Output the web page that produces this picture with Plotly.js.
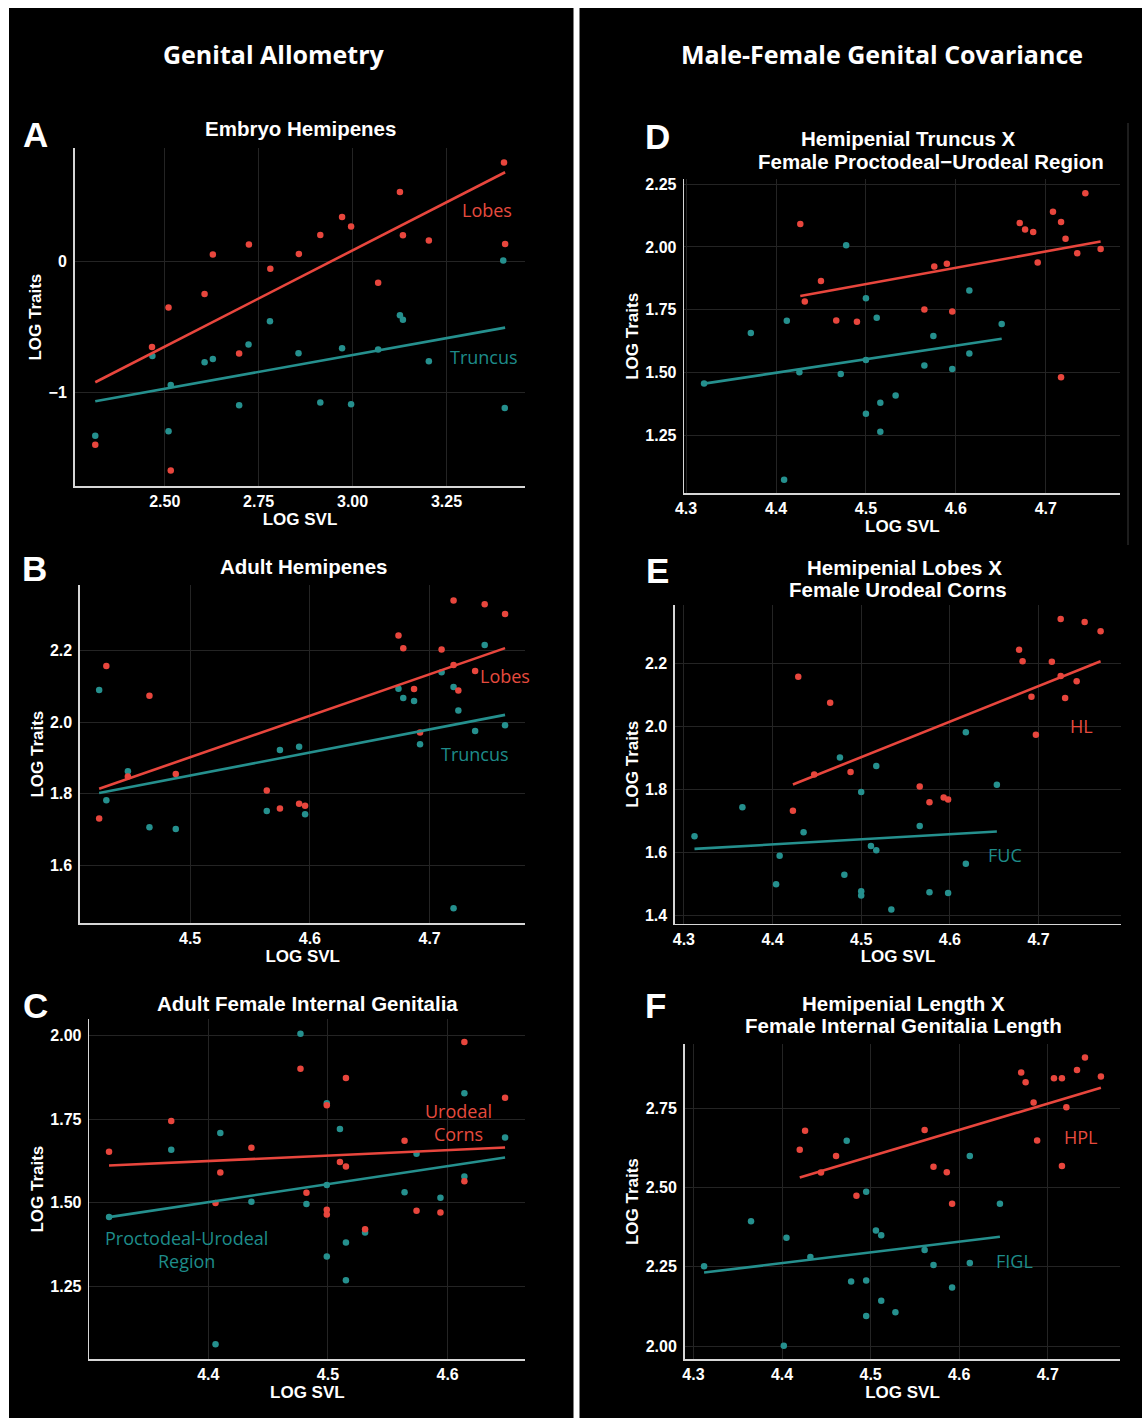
<!DOCTYPE html>
<html>
<head>
<meta charset="utf-8">
<script src="https://cdn.plot.ly/plotly-3.0.1.min.js"></script>
<style>html,body{margin:0;padding:0;background:#fff;}#chart{width:1142px;height:1418px;}</style>
</head>
<body>
<div id="chart"></div>
<script>
// ---------- DATA ----------
// Panel A: Embryo Hemipenes
const A_lobes_x = [3.403, 3.126, 2.972, 2.996, 2.914, 3.134, 3.203, 3.406, 2.724, 2.628, 2.857, 2.781, 3.068, 2.606, 2.510, 2.466, 2.698, 2.315, 2.516];
const A_lobes_y = [0.758, 0.533, 0.342, 0.268, 0.204, 0.202, 0.161, 0.135, 0.130, 0.054, 0.059, -0.054, -0.161, -0.247, -0.352, -0.653, -0.704, -1.401, -1.599];
const A_trunc_x = [3.401, 2.780, 3.126, 3.134, 2.723, 2.856, 2.972, 3.068, 2.467, 2.628, 2.606, 3.203, 2.516, 2.698, 2.914, 2.996, 3.405, 2.315, 2.510];
const A_trunc_y = [0.008, -0.457, -0.411, -0.444, -0.635, -0.702, -0.663, -0.673, -0.722, -0.745, -0.770, -0.763, -0.944, -1.099, -1.079, -1.092, -1.120, -1.332, -1.298];
const A_lobes_fit_x = [2.315, 3.406], A_lobes_fit_y = [-0.923, 0.684];
const A_trunc_fit_x = [2.315, 3.406], A_trunc_fit_y = [-1.069, -0.505];

// Panel B: Adult Hemipenes
const B_lobes_x = [4.720, 4.746, 4.763, 4.674, 4.678, 4.710, 4.430, 4.720, 4.738, 4.466, 4.687, 4.724, 4.692, 4.448, 4.488, 4.564, 4.575, 4.591, 4.596, 4.424];
const B_lobes_y = [2.339, 2.328, 2.301, 2.241, 2.206, 2.202, 2.156, 2.159, 2.142, 2.073, 2.092, 2.088, 1.971, 1.848, 1.855, 1.809, 1.759, 1.772, 1.767, 1.731];
const B_trunc_x = [4.424, 4.746, 4.710, 4.674, 4.720, 4.678, 4.687, 4.724, 4.763, 4.738, 4.692, 4.575, 4.591, 4.448, 4.430, 4.564, 4.596, 4.466, 4.488, 4.720];
const B_trunc_y = [2.089, 2.215, 2.139, 2.093, 2.098, 2.067, 2.059, 2.032, 1.991, 1.975, 1.938, 1.922, 1.931, 1.863, 1.782, 1.752, 1.743, 1.707, 1.702, 1.481];
const B_lobes_fit_x = [4.424, 4.763], B_lobes_fit_y = [1.814, 2.206];
const B_trunc_fit_x = [4.424, 4.763], B_trunc_fit_y = [1.802, 2.020];

// Panel C: Adult Female Internal Genitalia
const C_corns_x = [4.614, 4.477, 4.515, 4.648, 4.499, 4.369, 4.564, 4.436, 4.317, 4.510, 4.515, 4.410, 4.614, 4.482, 4.406, 4.499, 4.499, 4.574, 4.594, 4.531];
const C_corns_y = [1.980, 1.900, 1.873, 1.814, 1.791, 1.744, 1.685, 1.664, 1.652, 1.622, 1.608, 1.590, 1.564, 1.530, 1.499, 1.479, 1.465, 1.476, 1.471, 1.421];
const C_pur_x = [4.477, 4.614, 4.499, 4.510, 4.410, 4.648, 4.369, 4.574, 4.614, 4.499, 4.564, 4.594, 4.436, 4.482, 4.317, 4.531, 4.515, 4.499, 4.515, 4.406];
const C_pur_y = [2.005, 1.827, 1.797, 1.720, 1.708, 1.695, 1.658, 1.646, 1.578, 1.553, 1.531, 1.515, 1.503, 1.496, 1.457, 1.411, 1.381, 1.339, 1.268, 1.077];
const C_corns_fit_x = [4.317, 4.648], C_corns_fit_y = [1.611, 1.665];
const C_pur_fit_x = [4.317, 4.648], C_pur_fit_y = [1.457, 1.635];

// Panel D: Hemipenial Truncus X Female Proctodeal-Urodeal Region
const D_male_x = [4.744, 4.708, 4.427, 4.717, 4.671, 4.677, 4.686, 4.722, 4.761, 4.735, 4.691, 4.576, 4.590, 4.450, 4.432, 4.565, 4.596, 4.467, 4.490, 4.717];
const D_male_y = [2.214, 2.140, 2.091, 2.099, 2.095, 2.069, 2.060, 2.033, 1.992, 1.975, 1.938, 1.922, 1.933, 1.865, 1.783, 1.752, 1.744, 1.708, 1.703, 1.482];
const D_fem_x = [4.478, 4.615, 4.500, 4.512, 4.412, 4.651, 4.372, 4.575, 4.615, 4.500, 4.565, 4.596, 4.426, 4.472, 4.320, 4.533, 4.516, 4.500, 4.516, 4.409];
const D_fem_y = [2.007, 1.827, 1.796, 1.719, 1.707, 1.694, 1.658, 1.646, 1.577, 1.551, 1.529, 1.515, 1.502, 1.495, 1.457, 1.410, 1.381, 1.337, 1.266, 1.075];
const D_male_fit_x = [4.427, 4.761], D_male_fit_y = [1.805, 2.022];
const D_fem_fit_x = [4.320, 4.651], D_fem_fit_y = [1.457, 1.635];

// Panel E: Hemipenial Lobes X Female Urodeal Corns
const E_hl_x = [4.725, 4.752, 4.770, 4.678, 4.682, 4.715, 4.429, 4.725, 4.743, 4.465, 4.692, 4.730, 4.697, 4.447, 4.488, 4.566, 4.577, 4.593, 4.598, 4.423];
const E_hl_y = [2.340, 2.330, 2.301, 2.242, 2.206, 2.204, 2.157, 2.159, 2.142, 2.074, 2.093, 2.089, 1.973, 1.847, 1.855, 1.809, 1.759, 1.774, 1.768, 1.732];
const E_fuc_x = [4.618, 4.476, 4.517, 4.653, 4.500, 4.366, 4.566, 4.435, 4.312, 4.511, 4.517, 4.408, 4.618, 4.481, 4.404, 4.500, 4.500, 4.577, 4.598, 4.534];
const E_fuc_y = [1.981, 1.901, 1.874, 1.814, 1.791, 1.743, 1.684, 1.664, 1.651, 1.620, 1.607, 1.589, 1.564, 1.529, 1.499, 1.477, 1.463, 1.474, 1.471, 1.419];
const E_hl_fit_x = [4.423, 4.770], E_hl_fit_y = [1.815, 2.206];
const E_fuc_fit_x = [4.312, 4.653], E_fuc_fit_y = [1.611, 1.666];

// Panel F: Hemipenial Length X Female Internal Genitalia Length
const F_hpl_x = [4.742, 4.670, 4.733, 4.760, 4.707, 4.716, 4.675, 4.684, 4.721, 4.426, 4.561, 4.420, 4.461, 4.688, 4.571, 4.586, 4.444, 4.716, 4.484, 4.592];
const F_hpl_y = [2.911, 2.864, 2.872, 2.851, 2.846, 2.846, 2.833, 2.769, 2.754, 2.680, 2.682, 2.620, 2.600, 2.649, 2.566, 2.549, 2.548, 2.569, 2.475, 2.449];
const F_figl_x = [4.473, 4.612, 4.495, 4.646, 4.365, 4.405, 4.506, 4.512, 4.432, 4.561, 4.312, 4.571, 4.612, 4.478, 4.495, 4.592, 4.512, 4.528, 4.495, 4.402];
const F_figl_y = [2.648, 2.600, 2.487, 2.449, 2.394, 2.342, 2.365, 2.350, 2.281, 2.303, 2.252, 2.256, 2.262, 2.204, 2.207, 2.185, 2.143, 2.107, 2.095, 2.001];
const F_hpl_fit_x = [4.420, 4.760], F_hpl_fit_y = [2.532, 2.816];
const F_figl_fit_x = [4.312, 4.646], F_figl_fit_y = [2.232, 2.345];

// ---------- STYLE / LAYOUT ----------
const W = 1142, H = 1418;
const RED = '#E8463D', TEAL = '#25908E';
const RED_TXT = '#E64B3E', TEAL_TXT = '#1E8C8A';
const BOLD = "'Liberation Sans', Arial, sans-serif";
const LABF = "'Open Sans', 'Noto Sans', sans-serif";
const fx = p => p / W, fy = p => 1 - p / H;

const panels = [
  {id:'', xr:[2.26,3.46], yr:[-1.717,0.867], xd:[74.6,525.4], yd:[148.3,486], dx:0.25, dy:1, fxm:'.2f', fym:'d',
   series:[[A_trunc_x,A_trunc_y,A_trunc_fit_x,A_trunc_fit_y,'Truncus'],[A_lobes_x,A_lobes_y,A_lobes_fit_x,A_lobes_fit_y,'Lobes']]},
  {id:'2', xr:[4.408,4.780], yr:[1.439,2.382], xd:[80,525.4], yd:[585,923.3], dx:0.1, dy:0.2, fxm:'.1f', fym:'.1f',
   series:[[B_trunc_x,B_trunc_y,B_trunc_fit_x,B_trunc_fit_y,'Truncus'],[B_lobes_x,B_lobes_y,B_lobes_fit_x,B_lobes_fit_y,'Lobes']]},
  {id:'3', xr:[4.3005,4.665], yr:[1.032,2.049], xd:[89.3,525.4], yd:[1019,1359.3], dx:0.1, dy:0.25, fxm:'.1f', fym:'.2f',
   series:[[C_pur_x,C_pur_y,C_pur_fit_x,C_pur_fit_y,'Proctodeal-Urodeal Region'],[C_corns_x,C_corns_y,C_corns_fit_x,C_corns_fit_y,'Urodeal Corns']]},
  {id:'4', xr:[4.298,4.783], yr:[1.021,2.269], xd:[684.3,1120.4], yd:[179.3,493.3], dx:0.1, dy:0.25, fxm:'.1f', fym:'.2f',
   series:[[D_fem_x,D_fem_y,D_fem_fit_x,D_fem_fit_y,'Female Proctodeal-Urodeal Region'],[D_male_x,D_male_y,D_male_fit_x,D_male_fit_y,'Hemipenial Truncus']]},
  {id:'5', xr:[4.290,4.793], yr:[1.374,2.384], xd:[675,1121], yd:[605,923.7], dx:0.1, dy:0.2, fxm:'.1f', fym:'.1f',
   series:[[E_fuc_x,E_fuc_y,E_fuc_fit_x,E_fuc_fit_y,'FUC'],[E_hl_x,E_hl_y,E_hl_fit_x,E_hl_fit_y,'HL']]},
  {id:'6', xr:[4.290,4.782], yr:[1.958,2.954], xd:[684.6,1120.4], yd:[1044,1359.3], dx:0.1, dy:0.25, fxm:'.1f', fym:'.2f',
   series:[[F_figl_x,F_figl_y,F_figl_fit_x,F_figl_fit_y,'FIGL'],[F_hpl_x,F_hpl_y,F_hpl_fit_x,F_hpl_fit_y,'HPL']]}
];

const traces = [];
const layout = {
  width: W, height: H,
  margin: {l:0, r:0, t:0, b:0},
  paper_bgcolor: '#ffffff',
  plot_bgcolor: '#000000',
  showlegend: false,
  shapes: [
    {type:'rect', xref:'paper', yref:'paper', x0:fx(9), x1:fx(573.5), y0:0, y1:fy(8), fillcolor:'#000', line:{width:0}, layer:'below'},
    {type:'rect', xref:'paper', yref:'paper', x0:fx(579.5), x1:1, y0:0, y1:fy(8), fillcolor:'#000', line:{width:0}, layer:'below'},
    {type:'line', xref:'paper', yref:'paper', x0:fx(1128), x1:fx(1128), y0:fy(123), y1:fy(545), line:{color:'#3a3a3a', width:1}}
  ],
  annotations: []
};

panels.forEach(p => {
  const xa = 'x' + p.id, ya = 'y' + p.id;
  const colors = [TEAL, RED];
  p.series.forEach((s, i) => {
    traces.push({type:'scatter', mode:'markers', x:s[0], y:s[1], xaxis:xa, yaxis:ya, name:s[4],
      marker:{color:colors[i], size:6.5, line:{width:0}}, hoverinfo:'x+y+name'});
  });
  p.series.forEach((s, i) => {
    traces.push({type:'scatter', mode:'lines', x:s[2], y:s[3], xaxis:xa, yaxis:ya, name:s[4] + ' fit',
      line:{color:colors[i], width:2.6}, hoverinfo:'skip'});
  });
  const common = {
    showline:true, linecolor:'#d6d6d6', linewidth:1.6, mirror:false,
    showgrid:true, gridcolor:'#242424', gridwidth:1, zeroline:false,
    tickfont:{family:BOLD, size:16, color:'#ffffff', weight:700},
    fixedrange:true
  };
  layout['xaxis' + p.id] = Object.assign({}, common, {
    domain:[fx(p.xd[0]), fx(p.xd[1])], range:p.xr, anchor:ya,
    ticks:'', dtick:p.dx, tick0:0, tickformat:p.fxm,
    title:{text:'LOG SVL', font:{family:BOLD, size:17, color:'#ffffff', weight:700}, standoff:3}
  });
  layout['yaxis' + p.id] = Object.assign({}, common, {
    domain:[fy(p.yd[1]), fy(p.yd[0])], range:p.yr, anchor:xa,
    ticks:'outside', ticklen:3, tickcolor:'rgba(0,0,0,0)',
    dtick:p.dy, tick0:0, tickformat:p.fym,
    title:{text:'LOG Traits', font:{family:BOLD, size:17, color:'#ffffff', weight:700}, standoff:2}
  });
});

// headings
const ann = layout.annotations;
function paperText(text, x, y, size, opts) {
  ann.push(Object.assign({xref:'paper', yref:'paper', x:fx(x), y:fy(y), text:text, showarrow:false,
    xanchor:'center', yanchor:'middle', font:{family:BOLD, size:size, color:'#ffffff', weight:700}}, opts || {}));
}
paperText('Genital Allometry', 274, 54, 25, {font:{family:LABF, size:25, color:'#ffffff', weight:700}});
paperText('Male-Female Genital Covariance', 882, 54, 25, {font:{family:LABF, size:25, color:'#ffffff', weight:700}});

// panel titles
const TS = 20.5;
paperText('Embryo Hemipenes', 300, 129, TS);
paperText('Adult Hemipenes', 303, 567, TS);
paperText('Adult Female Internal Genitalia', 307, 1003, TS);
paperText('Hemipenial Truncus X', 908, 139, TS);
paperText('Female Proctodeal\u2212Urodeal Region', 931, 161.5, TS);
paperText('Hemipenial Lobes X', 904, 567.5, TS);
paperText('Female Urodeal Corns', 898, 589.5, TS);
paperText('Hemipenial Length X', 903, 1003, TS);
paperText('Female Internal Genitalia Length', 903, 1025, TS);

// panel letters
paperText('A', 35, 135, 35);
paperText('B', 34, 568, 35);
paperText('C', 35, 1005, 35);
paperText('D', 657, 137, 35);
paperText('E', 657, 571, 35);
paperText('F', 655, 1005, 35);

// series labels (data coordinates)
function lab(text, id, x, y, col) {
  ann.push({xref:'x' + id, yref:'y' + id, x:x, y:y, text:text, showarrow:false, xanchor:'center', yanchor:'middle',
    align:'center', font:{family:LABF, size:18, color:col}});
}
lab('Lobes', '', 3.357, 0.395, RED_TXT);
lab('Truncus', '', 3.35, -0.727, TEAL_TXT);
lab('Lobes', '2', 4.763, 2.128, RED_TXT);
lab('Truncus', '2', 4.738, 1.910, TEAL_TXT);
lab('Urodeal<br>Corns', '3', 4.609, 1.740, RED_TXT);
lab('Proctodeal-Urodeal<br>Region', '3', 4.382, 1.360, TEAL_TXT);
lab('HL', '5', 4.748, 1.999, RED_TXT);
lab('FUC', '5', 4.662, 1.593, TEAL_TXT);
lab('HPL', '6', 4.738, 2.659, RED_TXT);
lab('FIGL', '6', 4.662, 2.268, TEAL_TXT);

Plotly.newPlot('chart', traces, layout, {staticPlot:true, displayModeBar:false});
</script>
</body>
</html>
